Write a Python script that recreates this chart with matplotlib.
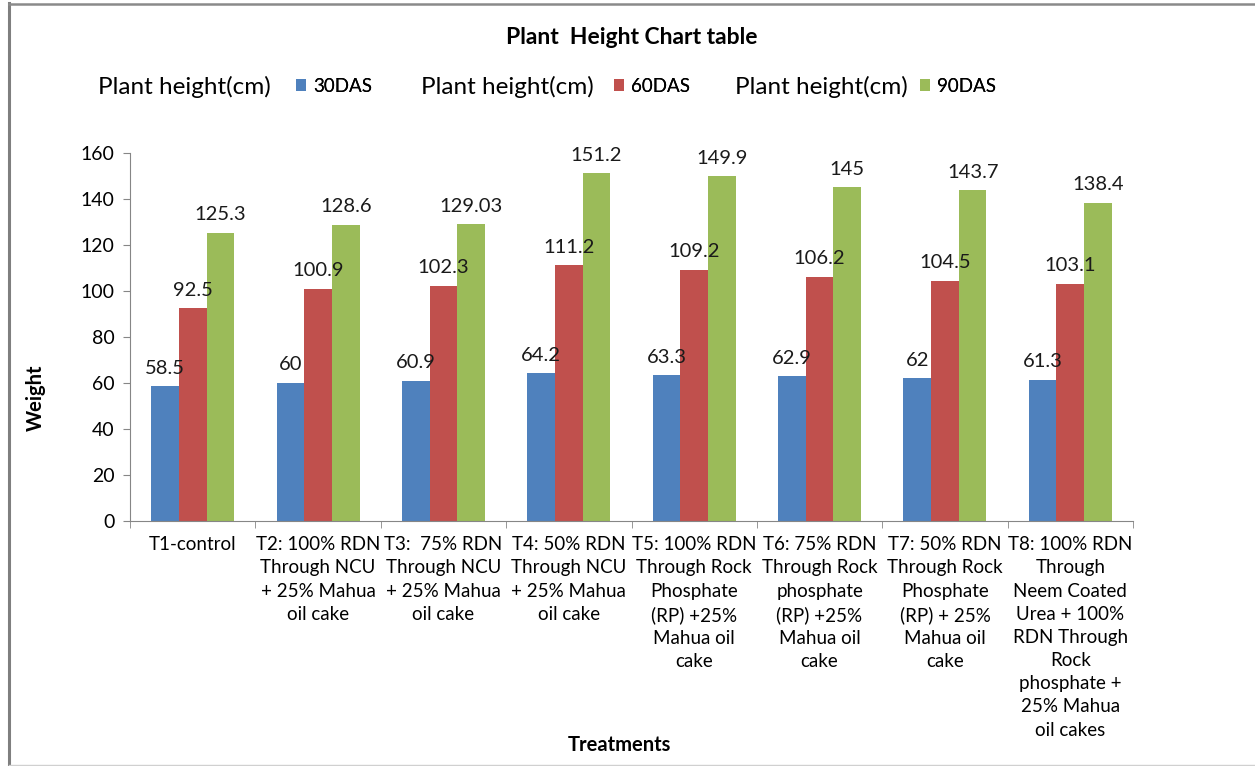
import matplotlib.pyplot as plt
import numpy as np
from matplotlib.lines import Line2D

plt.rcParams['font.family'] = ['Lato', 'DejaVu Sans']

treatments = [
    "T1-control",
    "T2: 100% RDN\nThrough NCU\n+ 25% Mahua\noil cake",
    "T3:  75% RDN\nThrough NCU\n+ 25% Mahua\noil cake",
    "T4: 50% RDN\nThrough NCU\n+ 25% Mahua\noil cake",
    "T5: 100% RDN\nThrough Rock\nPhosphate\n(RP) +25%\nMahua oil\ncake",
    "T6: 75% RDN\nThrough Rock\nphosphate\n(RP) +25%\nMahua oil\ncake",
    "T7: 50% RDN\nThrough Rock\nPhosphate\n(RP) + 25%\nMahua oil\ncake",
    "T8: 100% RDN\nThrough\nNeem Coated\nUrea + 100%\nRDN Through\nRock\nphosphate +\n25% Mahua\noil cakes",
]
series_names = ["30DAS", "60DAS", "90DAS"]
das30 = [58.5, 60, 60.9, 64.2, 63.3, 62.9, 62, 61.3]
das60 = [92.5, 100.9, 102.3, 111.2, 109.2, 106.2, 104.5, 103.1]
das90 = [125.3, 128.6, 129.03, 151.2, 149.9, 145, 143.7, 138.4]
value_text = [
    ["58.5", "60", "60.9", "64.2", "63.3", "62.9", "62", "61.3"],
    ["92.5", "100.9", "102.3", "111.2", "109.2", "106.2", "104.5", "103.1"],
    ["125.3", "128.6", "129.03", "151.2", "149.9", "145", "143.7", "138.4"],
]
colors = ["#4F81BD", "#C0504D", "#9BBB59"]

W, H = 1255, 766
fig = plt.figure(figsize=(W / 100, H / 100), dpi=100)
ax = fig.add_axes([130 / W, 1 - 521 / H, 1003 / W, 368 / H])

x = np.arange(len(treatments))
bw = 0.221
bars = []
for i, vals in enumerate([das30, das60, das90]):
    b = ax.bar(x + (i - 1) * bw, vals, bw, color=colors[i])
    bars.append(b)
    for xi, v, t in zip(x, vals, value_text[i]):
        ax.annotate(t, (xi + (i - 1) * bw, v), xytext=(0, 7),
                    textcoords="offset points", ha="center", va="bottom",
                    fontsize=14.5, color="#1a1a1a")

ax.set_xlim(-0.5, len(treatments) - 0.5)
ax.set_ylim(0, 160)
ax.set_yticks(range(0, 161, 20))
ax.tick_params(axis="y", labelsize=14, length=5, color="#868686", pad=6)

ax.set_xticks(x)
ax.set_xticklabels(treatments, fontsize=13.5, linespacing=1.44)
ax.tick_params(axis="x", length=0, pad=11)
ax.set_xticks(np.arange(-0.5, len(treatments)), minor=True)
ax.tick_params(axis="x", which="minor", length=5, color="#868686")

for s in ["top", "right"]:
    ax.spines[s].set_visible(False)
for s in ["left", "bottom"]:
    ax.spines[s].set_color("#868686")

fig.text(36 / W, 1 - 398 / H, "Weight", rotation=90, ha="center", va="center",
         fontsize=14.5, fontweight="bold")
fig.text(619 / W, 1 - 745 / H, "Treatments", ha="center", va="center",
         fontsize=14.5, fontweight="bold")
fig.text(632 / W, 1 - 38 / H, "Plant  Height Chart table", ha="center",
         va="center", fontsize=16.5, fontweight="bold")

# legend: prefix text + one single-entry legend per series
prefix_x = [98, 421, 735]
legend_x = [296, 614, 920]
for px, lx, b, name in zip(prefix_x, legend_x, bars, series_names):
    fig.text(px / W, 1 - 87 / H, "Plant height(cm)", ha="left", va="center",
             fontsize=17.5)
    leg = fig.legend([b], [name], loc="center left",
                     bbox_to_anchor=(lx / W, 1 - 86 / H), frameon=False,
                     fontsize=13.5, handlelength=0.55, handleheight=0.55,
                     handletextpad=0.35, borderpad=0, borderaxespad=0)
    fig.add_artist(leg)

# chart frame
fig.add_artist(Line2D([9 / W, 9 / W], [0, 1 - 3 / H], color="#7f7f7f", lw=2.2))
fig.add_artist(Line2D([9 / W, 1], [1 - 3.5 / H, 1 - 3.5 / H], color="#8a8a8a", lw=1.8))
fig.add_artist(Line2D([9 / W, 1], [1 / H, 1 / H], color="#d0d0d0", lw=1))

fig.savefig("out.png", dpi=100)
